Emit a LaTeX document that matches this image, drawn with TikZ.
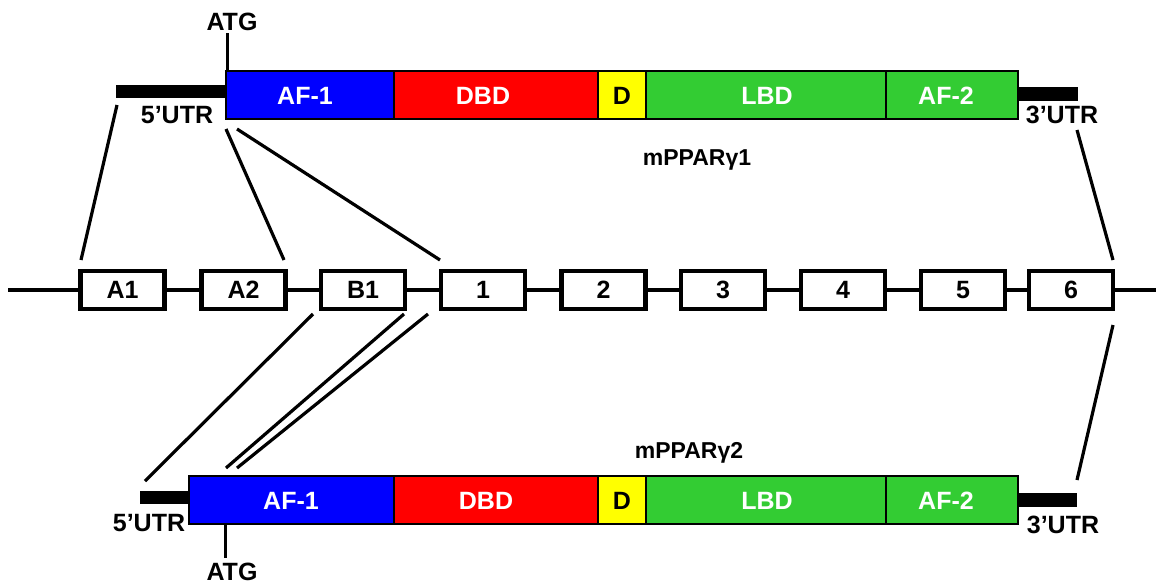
\documentclass[tikz,border=0pt]{standalone}
\usepackage{fontspec}
\setmainfont{Liberation Sans}
\definecolor{afblue}{RGB}{0,0,255}
\definecolor{dbdred}{RGB}{255,0,0}
\definecolor{hingeyellow}{RGB}{255,255,0}
\definecolor{lbdgreen}{RGB}{51,204,51}
\begin{document}
\begin{tikzpicture}[x=1pt,y=-1pt,
  lbl/.style={font=\bfseries\fontsize{25}{25}\selectfont, inner sep=0pt},
  wlbl/.style={lbl, text=white},
  title/.style={font=\bfseries\fontsize{23}{23}\selectfont, inner sep=0pt},
  dom/.style={draw=black, line width=1.5pt, inner sep=0pt, anchor=north west},
  utrbar/.style={fill=black, inner sep=0pt, anchor=north west},
  exonbox/.style={draw=black, line width=4.5pt, fill=white, inner sep=0pt,
    minimum width=84pt, minimum height=38pt,
    font=\bfseries\fontsize{25}{25}\selectfont},
  link/.style={line width=3.2pt},
  tick/.style={line width=3pt}]
\useasboundingbox (0,0) rectangle (1156,587);

% ---------- mPPARgamma1 protein ----------
\node[utrbar, minimum width=109pt, minimum height=13pt] (u5a) at (116,85) {};
\node[utrbar, minimum width=61pt, minimum height=14pt] (u3a) at (1017,87) {};
\node[dom, fill=afblue, minimum width=168pt, minimum height=48pt] (af1a) at (225,70) {};
\node[dom, fill=dbdred, minimum width=204pt, minimum height=48pt] (dbda) at (393,70) {};
\node[dom, fill=hingeyellow, minimum width=48pt, minimum height=48pt] (da) at (597,70) {};
\node[dom, fill=lbdgreen, minimum width=240pt, minimum height=48pt] (lbda) at (645,70) {};
\node[dom, fill=lbdgreen, minimum width=132pt, minimum height=48pt] (af2a) at (885,70) {};
\node[wlbl] (taf1a) at (305,96) {AF-1};
\node[wlbl] (tdbda) at (483,96) {DBD};
\node[lbl] (tda) at (622,96) {D};
\node[wlbl] (tlbda) at (767,96) {LBD};
\node[wlbl] (taf2a) at (946,96) {AF-2};
\coordinate (atga) at (227,70);
\node[lbl] (tatga) at (232,22) {ATG};
\draw[tick] (atga) -- ++(0,-37);
\node[lbl] (t5a) at (177,115) {5’UTR};
\node[lbl] (t3a) at (1062,115) {3’UTR};
\node[title] (g1) at (697,160) {mPPARγ1};

% ---------- gene ----------
\coordinate (gl) at (8,290);
\coordinate (gr) at (1156,290);
\draw[line width=4pt] (gl) -- (gr);
\node[exonbox] (eA1) at (122.5,290) {A1};
\node[exonbox] (eA2) at (243.5,290) {A2};
\node[exonbox] (eB1) at (363,290) {B1};
\node[exonbox] (e1) at (483,290) {1};
\node[exonbox] (e2) at (603.5,290) {2};
\node[exonbox] (e3) at (723,290) {3};
\node[exonbox] (e4) at (843,290) {4};
\node[exonbox] (e5) at (963,290) {5};
\node[exonbox] (e6) at (1071,290) {6};

% ---------- mPPARgamma2 protein ----------
\node[utrbar, minimum width=48pt, minimum height=13pt] (u5b) at (140,491) {};
\node[utrbar, minimum width=60pt, minimum height=14pt] (u3b) at (1017,493) {};
\node[dom, fill=afblue, minimum width=205pt, minimum height=48pt] (af1b) at (188,475) {};
\node[dom, fill=dbdred, minimum width=204pt, minimum height=48pt] (dbdb) at (393,475) {};
\node[dom, fill=hingeyellow, minimum width=48pt, minimum height=48pt] (db) at (597,475) {};
\node[dom, fill=lbdgreen, minimum width=240pt, minimum height=48pt] (lbdb) at (645,475) {};
\node[dom, fill=lbdgreen, minimum width=132pt, minimum height=48pt] (af2b) at (885,475) {};
\node[wlbl] (taf1b) at (291,501) {AF-1};
\node[wlbl] (tdbdb) at (486,501) {DBD};
\node[lbl] (tdb) at (622,501) {D};
\node[wlbl] (tlbdb) at (767,501) {LBD};
\node[wlbl] (taf2b) at (946,501) {AF-2};
\coordinate (atgb) at (225,523);
\node[lbl] (tatgb) at (232,572) {ATG};
\draw[tick] (atgb) -- ++(0,35);
\node[lbl] (t5b) at (149,523) {5’UTR};
\node[lbl] (t3b) at (1063,525) {3’UTR};
\node[title] (g2) at (689,453) {mPPARγ2};

% ---------- exon-to-protein links ----------
\coordinate (a1s) at (117,105);  \coordinate (a1e) at (81,260);
\coordinate (a2s) at (226,129);  \coordinate (a2e) at (284,260);
\coordinate (x1s) at (237,129);  \coordinate (x1e) at (440,260);
\coordinate (x6s) at (1077,130); \coordinate (x6e) at (1113,260);
\draw[link] (a1s) -- (a1e);
\draw[link] (a2s) -- (a2e);
\draw[link] (x1s) -- (x1e);
\draw[link] (x6s) -- (x6e);

\coordinate (b1s) at (313,314);  \coordinate (b1e) at (145,481);
\coordinate (b2s) at (404,314);  \coordinate (b2e) at (226,468);
\coordinate (b3s) at (428,314);  \coordinate (b3e) at (237,468);
\coordinate (b6s) at (1113,325); \coordinate (b6e) at (1077,480);
\draw[link] (b1s) -- (b1e);
\draw[link] (b2s) -- (b2e);
\draw[link] (b3s) -- (b3e);
\draw[link] (b6s) -- (b6e);
\end{tikzpicture}
\end{document}
